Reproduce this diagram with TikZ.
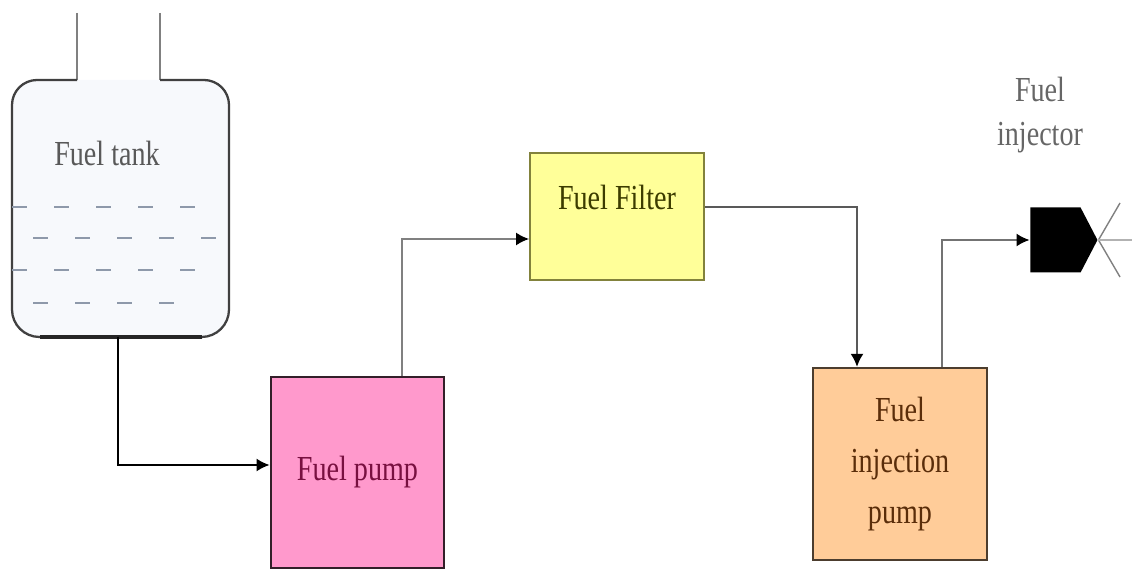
\documentclass[tikz,border=0pt]{standalone}
\usepackage{fontspec}
\setmainfont{Liberation Serif}[FakeStretch=0.8]
\usepackage{tikz}
\usetikzlibrary{arrows.meta,shapes.symbols}

\definecolor{pumppink}{HTML}{FF99CC}
\definecolor{filteryellow}{HTML}{FFFF99}
\definecolor{injorange}{HTML}{FFCC99}
\definecolor{liquid}{HTML}{8E99AA}
\definecolor{tankfill}{HTML}{F7F9FC}

\begin{document}
\begin{tikzpicture}[line width = 1pt,
                        box/.style = {draw, minimum width = 3.47cm, inner sep = 0pt, line width = 1.3pt,
                                      font = \fontsize{20}{29}\selectfont, align = center},
                        pipe/.style = {line width = 1.1pt, -{Latex[length = 2.6mm, width = 2.6mm, color = black]}},
                        fuel/.style = {draw = liquid, line width = 1.6pt, dash pattern = on 0.3cm off 0.54cm},
                        spray/.style = {draw = gray, line width = 0.8pt}]
      \useasboundingbox (0, 0) rectangle (22.64, 11.4);

      % tank
      \fill [tankfill] (1.54, 9.8) -- (0.74, 9.8) arc [start angle = 90, end angle = 180, radius = 0.5]
            -- (0.24, 5.21) arc [start angle = 180, end angle = 270, radius = 0.55]
            -- (4.03, 4.66) arc [start angle = 270, end angle = 360, radius = 0.55]
            -- (4.58, 9.3) arc [start angle = 0, end angle = 90, radius = 0.5] -- (3.2, 9.8) -- cycle;
      \draw [gray, line width = 0.8pt] (1.54, 11.14) -- (1.54, 9.8);
      \draw [gray, line width = 0.8pt] (3.2, 11.14) -- (3.2, 9.8);
      \draw [black!75, line width = 1.3pt] (1.54, 9.8) -- (0.74, 9.8) arc [start angle = 90, end angle = 180, radius = 0.5]
            -- (0.24, 5.21) arc [start angle = 180, end angle = 270, radius = 0.55]
            -- (4.03, 4.66) arc [start angle = 270, end angle = 360, radius = 0.55]
            -- (4.58, 9.3) arc [start angle = 0, end angle = 90, radius = 0.5] -- (3.2, 9.8);
      \draw [black!85, line width = 1.8pt] (0.79, 4.66) -- (4.03, 4.66);
      \draw [fuel] (0.24, 7.26) -- (3.96, 7.26);
      \draw [fuel] (0.66, 6.64) -- (4.4, 6.64);
      \draw [fuel] (0.24, 6.0) -- (3.96, 6.0);
      \draw [fuel] (0.66, 5.34) -- (3.54, 5.34);
      \node [text = black!65, font = \fontsize{20}{24}\selectfont] (tank) at (2.14, 8.34){Fuel tank};
      \coordinate (tankout) at (2.36, 4.66);

      % boxes
      \node [box, fill = pumppink, draw = black!80!pumppink, text = {rgb,255:red,120;green,16;blue,64},
             minimum height = 3.82cm] (pump) at (7.15, 1.95){Fuel pump};
      \node [box, fill = filteryellow, draw = {rgb,255:red,130;green,130;blue,60},
             minimum height = 2.54cm] (filter) at (12.34, 7.07){};
      \node [text = {rgb,255:red,60;green,60;blue,0}, font = \fontsize{20}{24}\selectfont]
             (filtertext) at (12.34, 7.46){Fuel Filter};
      \node [box, fill = injorange, draw = black!70!injorange, text = {rgb,255:red,90;green,45;blue,10},
             minimum height = 3.84cm] (injpump) at (18.0, 2.12){Fuel\\injection\\pump};

      % injector
      \node [signal, signal to = east, fill = black, minimum width = 1.34cm, minimum height = 1.3cm,
             signal pointer angle = 125, inner sep = 0pt] (injector) at (21.11, 6.6){};
      \node [text = black!60, align = center, font = \fontsize{20}{25}\selectfont] (injlabel) at (20.8, 9.1){Fuel\\injector};
      \coordinate (sprayup) at (22.4, 7.34);
      \coordinate (spraydown) at (22.4, 5.86);
      \coordinate (sprayend) at (22.64, 6.6);
      \draw [spray] (injector.east) -- (sprayup);
      \draw [spray] (injector.east) -- (spraydown);
      \draw [spray, draw = black!30] (injector.east) -- (sprayend);

      % pipes
      \draw [pipe, black] (tankout) |- ([yshift = 0.15cm]pump.west);
      \draw [pipe, draw = black!50] ([xshift = 0.89cm]pump.north) |- ([yshift = -0.45cm]filter.west);
      \draw [pipe, draw = black!65] ([yshift = 0.19cm]filter.east) -| ([xshift = -0.86cm]injpump.north);
      \draw [pipe, draw = black!55] ([xshift = 0.84cm]injpump.north) |- (injector.west);

      \end{tikzpicture}
\end{document}
